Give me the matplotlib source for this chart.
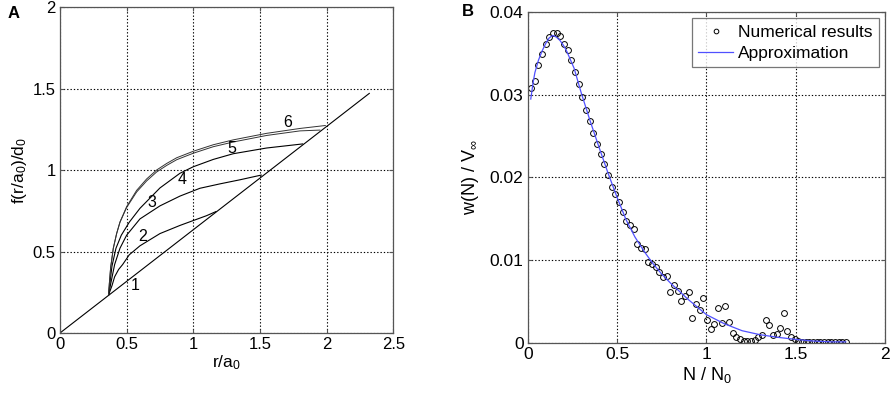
import numpy as np
import matplotlib.pyplot as plt

plt.rcParams['font.family'] = ['Liberation Sans', 'DejaVu Sans']
plt.rcParams['mathtext.fontset'] = 'custom'
plt.rcParams['mathtext.rm'] = 'Liberation Sans'
plt.rcParams['mathtext.it'] = 'Liberation Sans'

# ---- panel A data ----
diag_x = [0.0, 2.32]
diag_y = [0.0, 1.47]

c2_x = [0.365, 0.39, 0.41, 0.44, 0.47, 0.52, 0.6, 0.75, 0.9, 1.0, 1.1, 1.17]
c2_y = [0.235, 0.29, 0.345, 0.39, 0.42, 0.48, 0.535, 0.61, 0.66, 0.69, 0.72, 0.745]

c3_x = [0.365, 0.38, 0.41, 0.45, 0.5, 0.6, 0.75, 0.9, 1.05, 1.2, 1.35, 1.51]
c3_y = [0.235, 0.30, 0.42, 0.52, 0.60, 0.70, 0.78, 0.84, 0.888, 0.915, 0.94, 0.969]

c4_x = [0.365, 0.375, 0.39, 0.42, 0.46, 0.52, 0.60, 0.75, 0.90, 1.0, 1.15, 1.3, 1.55, 1.82]
c4_y = [0.235, 0.31, 0.41, 0.52, 0.60, 0.68, 0.765, 0.89, 0.98, 1.02, 1.065, 1.10, 1.135, 1.16]

c5_x = [0.365, 0.37, 0.38, 0.40, 0.425, 0.45, 0.50, 0.575, 0.65, 0.725, 0.80, 0.875, 1.0, 1.15, 1.3, 1.55, 1.8, 1.95]
c5_y = [0.235, 0.30, 0.40, 0.52, 0.61, 0.68, 0.77, 0.865, 0.933, 0.988, 1.028, 1.063, 1.103, 1.143, 1.172, 1.212, 1.24, 1.245]

c6_x = [0.365, 0.37, 0.38, 0.40, 0.425, 0.45, 0.50, 0.575, 0.65, 0.725, 0.80, 0.875, 1.0, 1.15, 1.3, 1.55, 1.8, 1.99]
c6_y = [0.235, 0.30, 0.40, 0.52, 0.61, 0.68, 0.775, 0.875, 0.945, 1.0, 1.04, 1.075, 1.115, 1.155, 1.185, 1.225, 1.255, 1.273]

curve_labels = ['1', '2', '3', '4', '5', '6']
label_x = [0.565, 0.62, 0.69, 0.915, 1.29, 1.71]
label_y = [0.29, 0.595, 0.80, 0.94, 1.13, 1.29]

a_xticks = [0, 0.5, 1, 1.5, 2, 2.5]
a_xticklabels = ['0', '0.5', '1', '1.5', '2', '2.5']
a_yticks = [0, 0.5, 1, 1.5, 2]
a_yticklabels = ['0', '0.5', '1', '1.5', '2']

# ---- panel B data ----
num_x = [0.019, 0.0395, 0.060, 0.0805, 0.101, 0.1215, 0.142, 0.1625, 0.183, 0.2035,
         0.224, 0.2445, 0.265, 0.2855, 0.306, 0.3265, 0.347, 0.3675, 0.388, 0.4085,
         0.429, 0.4495, 0.470, 0.4905, 0.511, 0.5315, 0.552, 0.5725, 0.593, 0.6135,
         0.634, 0.6545, 0.675, 0.6955, 0.716, 0.7365, 0.757, 0.7775, 0.798, 0.8185,
         0.839, 0.8595, 0.880, 0.9005, 0.921, 0.9415, 0.962, 0.9825, 1.003, 1.0235,
         1.044, 1.0645, 1.085, 1.1055, 1.126, 1.1465, 1.167, 1.1875, 1.208, 1.2285,
         1.249, 1.2695, 1.290, 1.3105, 1.331, 1.3515, 1.372, 1.3925, 1.413, 1.4335,
         1.454, 1.4745, 1.495, 1.5155, 1.536, 1.5565, 1.577, 1.5975, 1.618, 1.6385,
         1.659, 1.6795, 1.700, 1.7205, 1.741, 1.7615, 1.782]
num_y = [0.0308, 0.0317, 0.0336, 0.0350, 0.0362, 0.0370, 0.0375, 0.0375, 0.0371, 0.0362,
         0.0354, 0.0342, 0.0328, 0.0313, 0.0298, 0.0282, 0.0268, 0.0254, 0.0241, 0.0228,
         0.0216, 0.0203, 0.0188, 0.0180, 0.0170, 0.0158, 0.0147, 0.0142, 0.0138, 0.0120,
         0.0115, 0.0114, 0.0098, 0.0095, 0.0092, 0.0085, 0.0080, 0.0081, 0.0061, 0.0070,
         0.0062, 0.0051, 0.0057, 0.0061, 0.0030, 0.0047, 0.0040, 0.0054, 0.0027, 0.0017,
         0.0023, 0.0042, 0.0024, 0.0044, 0.0025, 0.0012, 0.0007, 0.0004, 0.0002, 0.0002,
         0.0002, 0.0003, 0.0007, 0.0009, 0.0028, 0.0021, 0.0009, 0.0011, 0.0018, 0.0036,
         0.0014, 0.0007, 0.0005, 0.0002, 0.0001, 0.0001, 0.0001, 0.0001, 0.0001, 0.0001,
         0.0001, 0.0001, 0.0001, 0.0001, 0.0001, 0.0001, 0.0001]

approx_x = [0.017, 0.03, 0.04, 0.06, 0.08, 0.10, 0.12, 0.14, 0.16, 0.18, 0.20, 0.22, 0.26, 0.30,
            0.35, 0.40, 0.45, 0.50, 0.55, 0.60, 0.65, 0.70, 0.75, 0.80, 0.90, 1.00,
            1.10, 1.20, 1.30, 1.40, 1.50, 1.60, 1.70, 1.78]
approx_y = [0.0295, 0.0315, 0.0327, 0.0342, 0.0353, 0.0362, 0.0369, 0.0372, 0.0370, 0.0366,
            0.0360, 0.0352, 0.0332, 0.0302, 0.0268, 0.0236, 0.0205, 0.0176, 0.0149, 0.0128,
            0.0111, 0.0096, 0.0083, 0.0072, 0.0052, 0.0034, 0.0023, 0.00145, 0.00097,
            0.00065, 0.0004, 0.0002, 0.0001, 0.0001]

b_xticks = [0, 0.5, 1, 1.5, 2]
b_xticklabels = ['0', '0.5', '1', '1.5', '2']
b_yticks = [0, 0.01, 0.02, 0.03, 0.04]
b_yticklabels = ['0', '0.01', '0.02', '0.03', '0.04']

fig = plt.figure(figsize=(8.91, 3.94), dpi=100)
axA = fig.add_axes([0.0673, 0.1548, 0.3741, 0.8274])
axB = fig.add_axes([0.5923, 0.1302, 0.4010, 0.8386])

for ax in (axA, axB):
    for s in ax.spines.values():
        s.set_color('#555555')
        s.set_linewidth(0.9)
    ax.grid(True, linestyle=(0, (1.2, 1.8)), color='black', linewidth=0.8)
    ax.set_axisbelow(True)
    ax.tick_params(direction='in', top=True, right=True, length=3, color='#555555', pad=3)

# panel A
lw = 0.8
axA.plot(diag_x, diag_y, color='black', lw=lw)
axA.plot(c2_x, c2_y, color='black', lw=lw)
axA.plot(c3_x, c3_y, color='black', lw=lw)
axA.plot(c4_x, c4_y, color='black', lw=lw)
axA.plot(c5_x, c5_y, color='#333333', lw=0.7)
axA.plot(c6_x, c6_y, color='#333333', lw=0.7)
for t, x, y in zip(curve_labels, label_x, label_y):
    axA.text(x, y, t, fontsize=11.5, ha='center', va='center')
axA.set_xlim(0, 2.5)
axA.set_ylim(0, 2)
axA.set_xticks(a_xticks)
axA.set_xticklabels(a_xticklabels, fontsize=12)
axA.set_yticks(a_yticks)
axA.set_yticklabels(a_yticklabels, fontsize=12)
axA.set_xlabel('r/a$_0$', fontsize=12.5, labelpad=1)
axA.set_ylabel('f(r/a$_0$)/d$_0$', fontsize=12.5, labelpad=3)
fig.text(0.009, 0.955, 'A', fontsize=12, fontweight='bold')

# panel B
axB.plot(num_x, num_y, 'o', mfc='none', mec='black', ms=4.2, mew=0.7,
         label='Numerical results')
axB.plot(approx_x, approx_y, color='#5050ff', lw=0.9, label='Approximation')
axB.set_xlim(0, 2)
axB.set_ylim(0, 0.04)
axB.set_xticks(b_xticks)
axB.set_xticklabels(b_xticklabels, fontsize=12.5)
axB.set_yticks(b_yticks)
axB.set_yticklabels(b_yticklabels, fontsize=12.5)
axB.set_xlabel('N / N$_0$', fontsize=13, labelpad=2)
axB.set_ylabel('w(N) / V$_\\infty$', fontsize=13, labelpad=6)
leg = axB.legend(loc='upper right', fontsize=12.5, fancybox=False, edgecolor='#555555',
                 borderpad=0.35, handlelength=2.0, handletextpad=0.3, labelspacing=0.35,
                 borderaxespad=0.35, markerscale=0.8)
leg.get_frame().set_linewidth(0.9)
fig.text(0.518, 0.96, 'B', fontsize=12, fontweight='bold')

fig.savefig('out.png', dpi=100)
